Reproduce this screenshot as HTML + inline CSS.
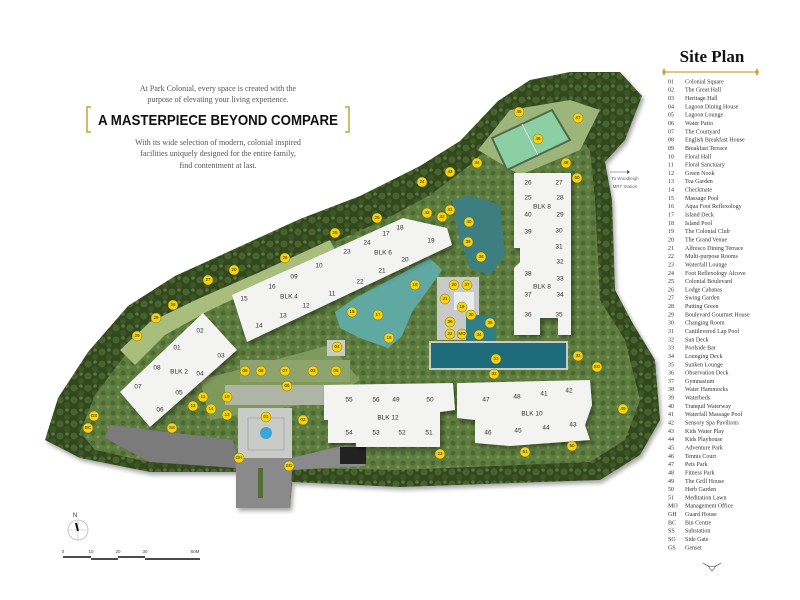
<!DOCTYPE html>
<html><head><meta charset="utf-8"><style>
html,body{margin:0;padding:0;background:#fff;width:800px;height:600px;overflow:hidden}
svg{display:block}
.s{font-family:"Liberation Serif",serif}
.b{font-family:"Liberation Sans",sans-serif}
</style></head><body>
<svg width="800" height="600" viewBox="0 0 800 600" xmlns="http://www.w3.org/2000/svg">
<defs>
<filter id="sh" x="-10%" y="-10%" width="130%" height="130%"><feDropShadow dx="2" dy="3" stdDeviation="2" flood-color="#000" flood-opacity="0.35"/></filter>
<pattern id="tr" width="14" height="12" patternUnits="userSpaceOnUse">
<rect width="14" height="12" fill="#30461f"/>
<circle cx="4" cy="4" r="3.5" fill="#46622f"/>
<circle cx="11" cy="9" r="3" fill="#3c5628"/>
<circle cx="11" cy="2" r="1.8" fill="#587540"/>
</pattern>
<pattern id="ln" width="10" height="10" patternUnits="userSpaceOnUse">
<rect width="10" height="10" fill="#5f7d40"/>
<circle cx="3" cy="3" r="2.5" fill="#4b6a32"/>
<circle cx="8" cy="7" r="1.5" fill="#7a9655"/>
</pattern>
</defs>
<!-- header -->
<g class="s" fill="#555" font-size="8" text-anchor="middle">
<text x="218" y="91">At Park Colonial, every space is created with the</text>
<text x="218" y="102">purpose of elevating your living experience.</text>
<text x="218" y="145">With its wide selection of modern, colonial inspired</text>
<text x="218" y="156">facilities uniquely designed for the entire family,</text>
<text x="218" y="168">find contentment at last.</text>
</g>
<path d="M91 107 H87 V132 H91 M345 107 H349 V132 H345" fill="none" stroke="#c9a43a" stroke-width="1.5"/>
<text class="b" x="98" y="125" font-size="15" font-weight="bold" fill="#111" textLength="240" lengthAdjust="spacingAndGlyphs">A MASTERPIECE BEYOND COMPARE</text>

<!-- site -->
<g filter="url(#sh)">
<path d="M45 440 L58 398 L88 352 L128 306 L175 276 L230 251 L300 219 L360 196 L420 166 L460 141 L498 101 L530 80 L570 72 L620 72 L642 96 L625 140 L605 162 L612 200 L615 290 L632 322 L655 360 L660 420 L640 455 L600 480 L400 487 L292 482 L290 508 L236 508 L236 472 L150 472 L80 458 Z" fill="url(#tr)"/>
</g>
<!-- inner landscape -->
<path d="M80 432 L95 395 L125 355 L160 322 L200 300 L250 278 L320 248 L380 222 L430 195 L470 165 L495 140 L560 120 L590 150 L595 200 L600 300 L625 340 L640 400 L625 440 L590 462 L400 470 L290 468 L150 462 L95 450 Z" fill="url(#ln)"/>
<path d="M120 350 L150 322 L200 298 L260 272 L330 240 L335 250 L270 282 L210 310 L165 335 L135 365 Z" fill="#a9bd7d"/>
<path d="M200 380 L330 345 L360 380 L330 400 L210 420 Z" fill="#7d9a5a"/>
<!-- tennis area -->
<path d="M478 150 L510 110 L570 100 L600 110 L580 150 L520 175 Z" fill="#9db57a"/>
<path d="M492 138 L552 110 L570 140 L507 170 Z" fill="#8ccfa4" stroke="#4e6b4a" stroke-width="2"/>
<line x1="522" y1="124" x2="538" y2="155" stroke="#e8f5ea" stroke-width="0.8"/>
<!-- plaza and roads -->
<path d="M110 425 L233 440 L238 458 L236 468 L150 462 L105 438 Z" fill="#7b7b7b"/>
<path d="M236 458 L292 458 L345 445 L365 447 L365 466 L292 470 L290 508 L236 508 Z" fill="#8a8a8a"/>
<rect x="340" y="447" width="26" height="17" fill="#222"/>
<rect x="238" y="408" width="54" height="50" fill="#c9ccc6"/>
<rect x="248" y="418" width="36" height="32" fill="none" stroke="#aab" stroke-width="1"/>
<circle cx="266" cy="433" r="6" fill="#3aa6d8"/>
<rect x="258" y="468" width="5" height="30" fill="#556b3a"/>
<rect x="225" y="385" width="120" height="20" fill="#aeb5a5"/>
<rect x="240" y="360" width="110" height="22" fill="#8ea36d"/>
<rect x="327" y="340" width="18" height="16" fill="#c9ccc6"/>
<!-- lagoon -->
<path d="M335 312 L355 298 L395 277 L430 258 L442 270 L428 290 L412 312 L402 336 L388 348 L360 338 L340 328 Z" fill="#5fa9a2"/>
<path d="M452 200 L470 195 L500 205 L505 255 L490 275 L470 268 L460 240 Z" fill="#3d7e80"/>
<!-- clubhouse -->
<rect x="437" y="277" width="42" height="63" fill="#c8cac8"/>
<rect x="454" y="292" width="20" height="18" fill="#e8ecea"/>
<rect x="466" y="315" width="30" height="28" fill="#2f7f86"/>
<!-- pool -->
<rect x="430" y="342" width="137" height="27" fill="#1e6b7c" stroke="#c8ccc8" stroke-width="2"/>
<!-- buildings -->
<g fill="#f3f3f1" filter="url(#sh)">
<path d="M203 313 L237 350 L150 427 L120 392 Z"/>
<path d="M232 295 L403 218 L447 228 L452 245 L247 342 Z"/>
<path d="M514 173 L571 173 L571 335 L558 335 L558 318 L540 318 L540 335 L514 335 L514 268 L520 262 L520 248 L514 248 Z"/>
<path d="M324 385 L453 383 L455 410 L440 412 L440 447 L356 447 L356 443 L328 443 L328 420 L324 420 Z"/>
<path d="M457 383 L590 380 L592 405 L585 425 L590 440 L510 446 L475 443 L475 420 L457 418 Z"/>
</g>
<!-- building labels -->
<g class="b" font-size="6.5" fill="#333" text-anchor="middle" dominant-baseline="middle">
<text x="200" y="331">02</text><text x="177" y="348">01</text><text x="221" y="356">03</text><text x="157" y="368">08</text><text x="179" y="372">BLK 2</text><text x="200" y="374">04</text><text x="138" y="387">07</text><text x="179" y="393">05</text><text x="160" y="410">06</text>
<text x="244" y="299">15</text><text x="272" y="287">16</text><text x="294" y="277">09</text><text x="319" y="266">10</text><text x="289" y="297">BLK 4</text><text x="306" y="306">12</text><text x="332" y="294">11</text><text x="283" y="316">13</text><text x="259" y="326">14</text>
<text x="347" y="252">23</text><text x="367" y="243">24</text><text x="386" y="234">17</text><text x="400" y="228">18</text><text x="383" y="253">BLK 6</text><text x="405" y="260">20</text><text x="431" y="241">19</text><text x="382" y="271">21</text><text x="360" y="282">22</text>
<text x="528" y="183">26</text><text x="559" y="183">27</text><text x="528" y="198">25</text><text x="560" y="198">28</text><text x="542" y="207">BLK 8</text><text x="528" y="215">40</text><text x="560" y="215">29</text><text x="528" y="232">39</text><text x="559" y="231">30</text><text x="559" y="247">31</text><text x="560" y="262">32</text><text x="528" y="274">38</text><text x="560" y="279">33</text><text x="542" y="287">BLK 8</text><text x="528" y="295">37</text><text x="560" y="295">34</text><text x="528" y="315">36</text><text x="559" y="315">35</text>
<text x="349" y="400">55</text><text x="376" y="400">56</text><text x="396" y="400">49</text><text x="430" y="400">50</text><text x="388" y="418">BLK 12</text><text x="349" y="433">54</text><text x="376" y="433">53</text><text x="402" y="433">52</text><text x="429" y="433">51</text>
<text x="486" y="400">47</text><text x="517" y="397">48</text><text x="544" y="394">41</text><text x="569" y="391">42</text><text x="532" y="414">BLK 10</text><text x="488" y="433">46</text><text x="518" y="431">45</text><text x="546" y="428">44</text><text x="573" y="425">43</text>
</g>
<!-- markers -->
<g fill="#f5d312" stroke="#6b5a00" stroke-width="0.4">
<circle cx="335" cy="233" r="5"/><circle cx="285" cy="258" r="5"/><circle cx="234" cy="270" r="5"/><circle cx="208" cy="280" r="5"/><circle cx="173" cy="305" r="5"/><circle cx="156" cy="318" r="5"/><circle cx="137" cy="336" r="5"/>
<circle cx="245" cy="371" r="5"/><circle cx="261" cy="371" r="5"/><circle cx="285" cy="371" r="5"/><circle cx="313" cy="371" r="5"/><circle cx="336" cy="371" r="5"/><circle cx="337" cy="347" r="5"/><circle cx="287" cy="386" r="5"/><circle cx="227" cy="397" r="5"/><circle cx="203" cy="397" r="5"/><circle cx="193" cy="406" r="5"/><circle cx="211" cy="409" r="5"/><circle cx="227" cy="415" r="5"/><circle cx="266" cy="417" r="5"/><circle cx="303" cy="420" r="5"/>
<circle cx="94" cy="416" r="5"/><circle cx="88" cy="428" r="5"/><circle cx="172" cy="428" r="5"/><circle cx="239" cy="458" r="5"/><circle cx="289" cy="466" r="5"/>
<circle cx="519" cy="112" r="5"/><circle cx="578" cy="118" r="5"/><circle cx="538" cy="139" r="5"/><circle cx="477" cy="163" r="5"/><circle cx="566" cy="163" r="5"/><circle cx="450" cy="172" r="5"/><circle cx="577" cy="178" r="5"/><circle cx="422" cy="182" r="5"/><circle cx="377" cy="218" r="5"/><circle cx="427" cy="213" r="5"/><circle cx="450" cy="210" r="5"/><circle cx="442" cy="217" r="5"/><circle cx="469" cy="222" r="5"/><circle cx="468" cy="242" r="5"/><circle cx="481" cy="257" r="5"/><circle cx="415" cy="285" r="5"/><circle cx="454" cy="285" r="5"/><circle cx="467" cy="285" r="5"/><circle cx="445" cy="299" r="5"/><circle cx="462" cy="307" r="5"/>
<circle cx="352" cy="312" r="5"/><circle cx="378" cy="315" r="5"/><circle cx="389" cy="338" r="5"/><circle cx="471" cy="315" r="5"/><circle cx="450" cy="322" r="5"/><circle cx="490" cy="323" r="5"/><circle cx="450" cy="334" r="5"/><circle cx="462" cy="334" r="5"/><circle cx="479" cy="335" r="5"/><circle cx="496" cy="359" r="5"/><circle cx="494" cy="374" r="5"/><circle cx="578" cy="356" r="5"/><circle cx="597" cy="367" r="5"/><circle cx="623" cy="409" r="5"/><circle cx="440" cy="454" r="5"/><circle cx="525" cy="452" r="5"/><circle cx="572" cy="446" r="5"/>
</g>
<g class="b" font-size="4.5" fill="#222" text-anchor="middle" dominant-baseline="middle">
<text x="335" y="233">25</text><text x="285" y="258">26</text><text x="234" y="270">20</text><text x="208" y="280">27</text><text x="173" y="305">28</text><text x="156" y="318">29</text><text x="137" y="336">29</text>
<text x="245" y="371">09</text><text x="261" y="371">08</text><text x="285" y="371">07</text><text x="313" y="371">03</text><text x="336" y="371">05</text><text x="337" y="347">04</text><text x="287" y="386">06</text><text x="227" y="397">10</text><text x="203" y="397">11</text><text x="193" y="406">12</text><text x="211" y="409">14</text><text x="227" y="415">13</text><text x="266" y="417">01</text><text x="303" y="420">02</text>
<text x="94" y="416">GS</text><text x="88" y="428">BC</text><text x="172" y="428">SS</text><text x="239" y="458">GH</text><text x="289" y="466">SG</text>
<text x="519" y="112">45</text><text x="578" y="118">47</text><text x="538" y="139">46</text><text x="477" y="163">44</text><text x="566" y="163">48</text><text x="450" y="172">43</text><text x="577" y="178">50</text><text x="422" y="182">24</text><text x="377" y="218">26</text><text x="427" y="213">42</text><text x="450" y="210">41</text><text x="442" y="217">42</text><text x="469" y="222">40</text><text x="468" y="242">39</text><text x="481" y="257">38</text><text x="415" y="285">18</text><text x="454" y="285">20</text><text x="467" y="285">37</text><text x="445" y="299">21</text><text x="462" y="307">19</text>
<text x="352" y="312">15</text><text x="378" y="315">17</text><text x="389" y="338">16</text><text x="471" y="315">30</text><text x="450" y="322">36</text><text x="490" y="323">35</text><text x="450" y="334">22</text><text x="462" y="334">MO</text><text x="479" y="335">34</text><text x="496" y="359">31</text><text x="494" y="374">32</text><text x="578" y="356">33</text><text x="597" y="367">SG</text><text x="623" y="409">49</text><text x="440" y="454">23</text><text x="525" y="452">51</text><text x="572" y="446">50</text>
</g>
<!-- MRT note -->
<line x1="610" y1="172" x2="627" y2="172" stroke="#555" stroke-width="0.6"/>
<path d="M627 170 L630 172 L627 174 Z" fill="#555"/>
<text class="b" x="625" y="180" font-size="4.5" fill="#666" text-anchor="middle">To Woodleigh</text>
<text class="b" x="625" y="188" font-size="4.5" fill="#666" text-anchor="middle">MRT Station</text>
<!-- north & scale -->
<text class="b" x="75" y="517" font-size="6" fill="#333" text-anchor="middle">N</text>
<circle cx="78" cy="530" r="10" fill="none" stroke="#bbb" stroke-width="0.8"/>
<line x1="68" y1="530" x2="88" y2="530" stroke="#bbb" stroke-width="0.6"/>
<line x1="78" y1="520" x2="78" y2="540" stroke="#bbb" stroke-width="0.6"/>
<line x1="76" y1="523" x2="78" y2="531" stroke="#111" stroke-width="2"/>
<g class="b" font-size="4.5" fill="#444" text-anchor="middle"><text x="63" y="553">0</text><text x="91" y="553">10</text><text x="118" y="553">20</text><text x="145" y="553">30</text><text x="195" y="553">50M</text></g>
<g stroke="#111" stroke-width="1.4"><line x1="63" y1="557" x2="91" y2="557"/><line x1="91" y1="559" x2="118" y2="559"/><line x1="118" y1="557" x2="145" y2="557"/><line x1="145" y1="559" x2="200" y2="559"/></g>

<!-- legend -->
<text class="s" x="712" y="62" font-size="17" font-weight="bold" fill="#111" text-anchor="middle">Site Plan</text>
<line x1="664" y1="72" x2="757" y2="72" stroke="#c9a43a" stroke-width="1.2"/>
<path d="M664 68 L666 72 L664 76 L662 72 Z M757 68 L759 72 L757 76 L755 72 Z" fill="#c9a43a"/>
<g class="s" font-size="6" fill="#333" dominant-baseline="middle">
<text x="668" y="82">01</text><text x="685" y="82">Colonial Square</text>
<text x="668" y="90.3">02</text><text x="685" y="90.3">The Great Hall</text>
<text x="668" y="98.6">03</text><text x="685" y="98.6">Heritage Hall</text>
<text x="668" y="107">04</text><text x="685" y="107">Lagoon Dining House</text>
<text x="668" y="115.3">05</text><text x="685" y="115.3">Lagoon Lounge</text>
<text x="668" y="123.6">06</text><text x="685" y="123.6">Water Patio</text>
<text x="668" y="131.9">07</text><text x="685" y="131.9">The Courtyard</text>
<text x="668" y="140.2">08</text><text x="685" y="140.2">English Breakfast House</text>
<text x="668" y="148.6">09</text><text x="685" y="148.6">Breakfast Terrace</text>
<text x="668" y="156.9">10</text><text x="685" y="156.9">Floral Hall</text>
<text x="668" y="165.2">11</text><text x="685" y="165.2">Floral Sanctuary</text>
<text x="668" y="173.5">12</text><text x="685" y="173.5">Green Nook</text>
<text x="668" y="181.8">13</text><text x="685" y="181.8">Tea Garden</text>
<text x="668" y="190.2">14</text><text x="685" y="190.2">Checkmate</text>
<text x="668" y="198.5">15</text><text x="685" y="198.5">Massage Pool</text>
<text x="668" y="206.8">16</text><text x="685" y="206.8">Aqua Foot Reflexology</text>
<text x="668" y="215.1">17</text><text x="685" y="215.1">Island Deck</text>
<text x="668" y="223.4">18</text><text x="685" y="223.4">Island Pool</text>
<text x="668" y="231.8">19</text><text x="685" y="231.8">The Colonial Club</text>
<text x="668" y="240.1">20</text><text x="685" y="240.1">The Grand Venue</text>
<text x="668" y="248.4">21</text><text x="685" y="248.4">Alfresco Dining Terrace</text>
<text x="668" y="256.7">22</text><text x="685" y="256.7">Multi-purpose Rooms</text>
<text x="668" y="265">23</text><text x="685" y="265">Waterfall Lounge</text>
<text x="668" y="273.4">24</text><text x="685" y="273.4">Foot Reflexology Alcove</text>
<text x="668" y="281.7">25</text><text x="685" y="281.7">Colonial Boulevard</text>
<text x="668" y="290">26</text><text x="685" y="290">Lodge Cabanas</text>
<text x="668" y="298.3">27</text><text x="685" y="298.3">Swing Garden</text>
<text x="668" y="306.6">28</text><text x="685" y="306.6">Putting Green</text>
<text x="668" y="315">29</text><text x="685" y="315">Boulevard Gourmet House</text>
<text x="668" y="323.3">30</text><text x="685" y="323.3">Changing Room</text>
<text x="668" y="331.6">31</text><text x="685" y="331.6">Cantilevered Lap Pool</text>
<text x="668" y="339.9">32</text><text x="685" y="339.9">Sun Deck</text>
<text x="668" y="348.2">33</text><text x="685" y="348.2">Poolside Bar</text>
<text x="668" y="356.6">34</text><text x="685" y="356.6">Lounging Deck</text>
<text x="668" y="364.9">35</text><text x="685" y="364.9">Sunken Lounge</text>
<text x="668" y="373.2">36</text><text x="685" y="373.2">Observation Deck</text>
<text x="668" y="381.5">37</text><text x="685" y="381.5">Gymnasium</text>
<text x="668" y="389.8">38</text><text x="685" y="389.8">Water Hammocks</text>
<text x="668" y="398.2">39</text><text x="685" y="398.2">Waterbeds</text>
<text x="668" y="406.5">40</text><text x="685" y="406.5">Tranquil Waterway</text>
<text x="668" y="414.8">41</text><text x="685" y="414.8">Waterfall Massage Pool</text>
<text x="668" y="423.1">42</text><text x="685" y="423.1">Sensory Spa Pavilions</text>
<text x="668" y="431.4">43</text><text x="685" y="431.4">Kids Water Play</text>
<text x="668" y="439.8">44</text><text x="685" y="439.8">Kids Playhouse</text>
<text x="668" y="448.1">45</text><text x="685" y="448.1">Adventure Park</text>
<text x="668" y="456.4">46</text><text x="685" y="456.4">Tennis Court</text>
<text x="668" y="464.7">47</text><text x="685" y="464.7">Pets Park</text>
<text x="668" y="473">48</text><text x="685" y="473">Fitness Park</text>
<text x="668" y="481.4">49</text><text x="685" y="481.4">The Grill House</text>
<text x="668" y="489.7">50</text><text x="685" y="489.7">Herb Garden</text>
<text x="668" y="498">51</text><text x="685" y="498">Meditation Lawn</text>
<text x="668" y="506.3">MO</text><text x="685" y="506.3">Management Office</text>
<text x="668" y="514.6">GH</text><text x="685" y="514.6">Guard House</text>
<text x="668" y="523">BC</text><text x="685" y="523">Bin Centre</text>
<text x="668" y="531.3">SS</text><text x="685" y="531.3">Substation</text>
<text x="668" y="539.6">SG</text><text x="685" y="539.6">Side Gate</text>
<text x="668" y="547.9">GS</text><text x="685" y="547.9">Genset</text>
</g>
<path d="M703 563 Q712 570 721 563 M708 566 L712 571 L716 566" fill="none" stroke="#777" stroke-width="0.8"/>
</svg>
</body></html>
